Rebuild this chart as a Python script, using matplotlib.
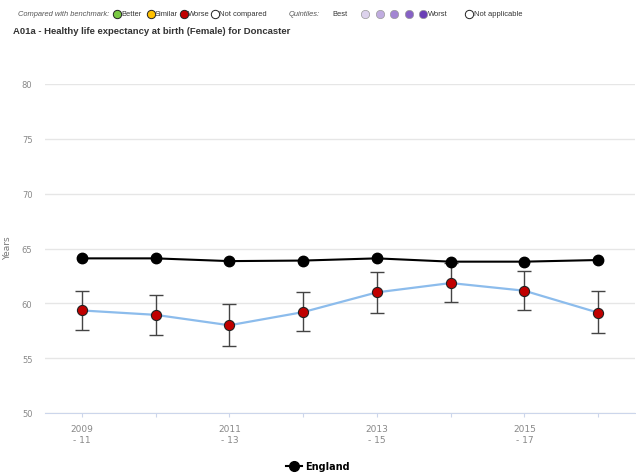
import matplotlib
matplotlib.use('Agg')
import matplotlib.pyplot as plt
from matplotlib.lines import Line2D

plt.rcParams['font.family'] = ['Liberation Sans', 'DejaVu Sans']

periods = ['2009\n- 11', '', '2011\n- 13', '', '2013\n- 15', '', '2015\n- 17', '']
england = [64.1, 64.1, 63.85, 63.9, 64.1, 63.8, 63.8, 63.95]
doncaster = [59.35, 58.95, 58.0, 59.2, 61.0, 61.85, 61.15, 59.15]
ci_low = [57.55, 57.15, 56.1, 57.45, 59.1, 60.15, 59.35, 57.25]
ci_high = [61.15, 60.75, 59.95, 61.05, 62.85, 63.7, 62.95, 61.15]

fig = plt.figure(figsize=(6.36, 4.77), dpi=100)
ax = fig.add_axes([45 / 636, 63 / 477, 590 / 636, 329 / 477])

x = list(range(len(periods)))

# confidence intervals behind the markers
yerr = [[d - lo for d, lo in zip(doncaster, ci_low)],
        [hi - d for d, hi in zip(doncaster, ci_high)]]
ax.errorbar(x, doncaster, yerr=yerr, fmt='none', ecolor='#444444',
            elinewidth=1.0, capsize=4.8, capthick=1.0, zorder=3)

ax.plot(x, doncaster, color='#8cbcec', lw=1.6, zorder=2)
ax.plot(x, doncaster, 'o', ms=7.3, mfc='#c00000', mec='#222222', mew=0.8, zorder=4)

ax.plot(x, england, color='black', lw=1.5, marker='o', ms=7.5,
        mfc='black', mec='black', zorder=5)

ax.set_xlim(-0.5, len(periods) - 0.5)
ax.set_ylim(50, 80)
ax.set_yticks([50, 55, 60, 65, 70, 75, 80])
ax.set_xticks(x)
ax.set_xticklabels(periods, fontsize=6.5, color='#888888', linespacing=1.25,
                   family='DejaVu Sans')
for t in ax.get_yticklabels():
    t.set_family('DejaVu Sans')
ax.tick_params(axis='y', length=0, labelsize=6, labelcolor='#888888', pad=9)
ax.tick_params(axis='x', length=3, color='#ccd6eb', pad=5)
ax.grid(axis='y', color='#e6e6e6', lw=1)
ax.set_axisbelow(True)
for s in ['top', 'right', 'left']:
    ax.spines[s].set_visible(False)
ax.spines['bottom'].set_color('#ccd6eb')
fig.text(8 / 636, 1 - 248 / 477, 'Years', rotation=90, fontsize=6.5, color='#777777',
         ha='center', va='center', family='DejaVu Sans')

# benchmark / quintile key along the top
key = fig.add_axes([0, 0, 1, 1])
key.set_xlim(0, 636)
key.set_ylim(477, 0)
key.axis('off')
fs = 5.4
key.text(18, 15, 'Compared with benchmark:', fontsize=fs, style='italic',
         color='#555555', va='center')
items = [(117, '#7ac943', 'Better'), (151, '#ffc000', 'Similar'),
         (184, '#c00000', 'Worse'), (215, 'white', 'Not compared')]
for px, col, lab in items:
    key.plot(px, 15, 'o', ms=6, mfc=col, mec='#222222', mew=0.7)
    key.text(px + 4, 15, lab, fontsize=fs, color='#333333', va='center')
key.text(289, 15, 'Quintiles:', fontsize=fs, style='italic', color='#555555', va='center')
key.text(332, 15, 'Best', fontsize=fs, color='#333333', va='center')
quint = ['#dcd2ec', '#c0ace0', '#a386d2', '#8661c5', '#6a3fb5']
for i, col in enumerate(quint):
    key.plot(365 + i * 14.5, 15, 'o', ms=6, mfc=col, mec='#999999', mew=0.5)
key.text(428, 15, 'Worst', fontsize=fs, color='#333333', va='center')
key.plot(469, 15, 'o', ms=6, mfc='white', mec='#222222', mew=0.7)
key.text(474, 15, 'Not applicable', fontsize=fs, color='#333333', va='center')

fig.text(13 / 636, 1 - 32 / 477, 'A01a - Healthy life expectancy at birth (Female) for Doncaster',
         fontsize=6.8, fontweight='bold', color='#333333', va='center')

handle = Line2D([], [], color='black', lw=1.5, marker='o', ms=7, mfc='black')
fig.legend([handle], ['England'], loc='center', bbox_to_anchor=(318 / 636, 1 - 467 / 477),
           frameon=False, handlelength=1.6, handletextpad=0.4,
           prop={'size': 7, 'weight': 'bold', 'family': 'DejaVu Sans'})

fig.savefig('out.png', dpi=100)
